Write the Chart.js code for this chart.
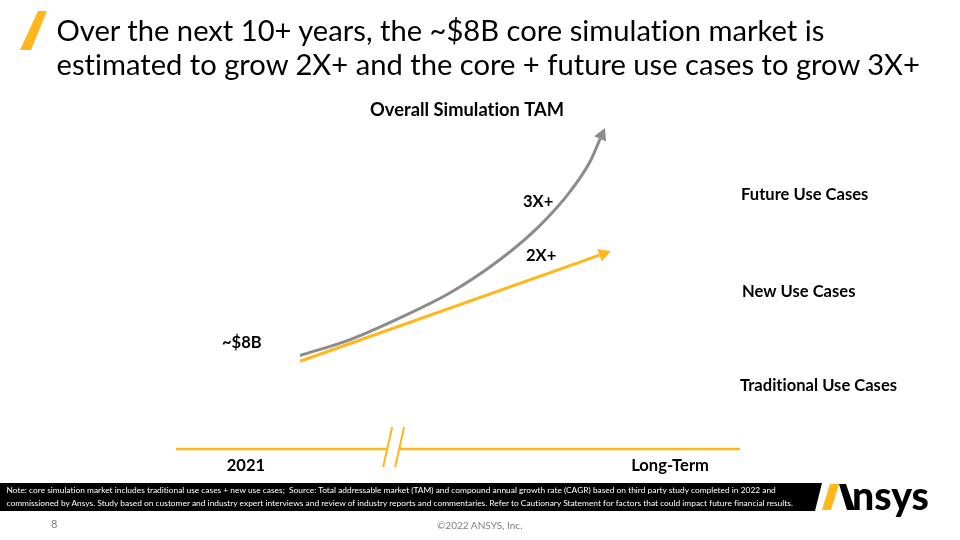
<!DOCTYPE html>
<html>
<head>
<meta charset="utf-8">
<title>Overall Simulation TAM</title>
<script src="https://cdn.jsdelivr.net/npm/chart.js@4.4.1/dist/chart.umd.min.js"></script>
<style>
  body { margin: 0; background: #fff; }
  #slide { position: relative; width: 960px; height: 540px; overflow: hidden; background: #fff; }
  #myChart { position: absolute; left: 0; top: 0; }
  #shapes { position: absolute; left: 0; top: 0; }
  .txt { position: absolute; margin: 0; white-space: nowrap; }
</style>
</head>
<body>
<div id="slide">
  <canvas id="myChart" width="960" height="540"></canvas>
  <svg id="shapes" width="960" height="540">
    <polygon points="38,11 47,11 31,50 20,50" fill="#ffb71b"></polygon>
    <polygon points="0,483 822,483 815,511 0,511" fill="#000"></polygon>
    <polygon points="830,484 839,484 831,510 822,510" fill="#ffb71b"></polygon>
    <polygon points="839,484 846,484 855,510 847,510" fill="#000"></polygon>
  </svg>
  <p class="txt" id="title1">Over the next 10+ years, the ~$8B core simulation market is</p>
  <p class="txt" id="title2">estimated to grow 2X+ and the core + future use cases to grow 3X+</p>
  <p class="txt" id="note1">Note: core simulation market includes traditional use cases + new use cases;&nbsp; Source: Total addressable market (TAM) and compound annual growth rate (CAGR) based on third party study completed in 2022 and</p>
  <p class="txt" id="note2">commissioned by Ansys. Study based on customer and industry expert interviews and review of industry reports and commentaries. Refer to Cautionary Statement for factors that could impact future financial results.</p>
  <p class="txt" id="logoText">nsys</p>
  <p class="txt" id="pageNum">8</p>
  <p class="txt" id="copyText">©2022 ANSYS, Inc.</p>
</div>
<script>
'use strict';
// timeline ticks (x runs 0..100 from 2021 to long-term)
const tickLabels = ['2021', 'Long-Term'];
const tickAt = [12.4, 87.6];
const breakAt = 38.5;

// market size, $B (schematic)
const coreX = [22.0, 75.1];
const coreY = [7.7, 17.0];
const totalX = [22.0, 30.9, 39.7, 48.6, 57.4, 64.5, 69.9, 73.4, 75.2];
const totalY = [8.2, 9.6, 11.5, 13.7, 16.6, 19.6, 22.6, 25.2, 27.2];

const useCases = ['Future Use Cases', 'New Use Cases', 'Traditional Use Cases'];
const growthLabels = ['3X+', '2X+'];
const startLabel = '~$8B';
const heading = 'Overall Simulation TAM';

const orange = '#ffb71b';
const grey = '#8c8c8c';
const sans = "Lato, 'Open Sans', sans-serif";

const measureCtx = document.createElement('canvas').getContext('2d');
measureCtx.letterSpacing = '0.01px';

function fitSize(text, weight, width) {
  measureCtx.font = `${weight} 100px ${sans}`;
  return 100 * width / measureCtx.measureText(text).width;
}

function place(id, left, baseline, size, weight, color, align) {
  const el = document.getElementById(id);
  const font = `${weight} ${size}px ${sans}`;
  measureCtx.font = font;
  const m = measureCtx.measureText(el.textContent);
  el.style.font = font;
  el.style.fontVariantLigatures = 'none';
  el.style.lineHeight = (m.fontBoundingBoxAscent + m.fontBoundingBoxDescent) + 'px';
  el.style.top = (baseline - m.fontBoundingBoxAscent) + 'px';
  el.style.left = (align === 'center' ? left - m.width / 2 : left) + 'px';
  el.style.color = color;
}

let titleSize = fitSize(document.getElementById('title2').textContent, 'normal', 865);
place('title1', 56.5, 40.7, titleSize, 'normal', '#000');
place('title2', 56.5, 75, titleSize, 'normal', '#000');

let noteSize = fitSize(document.getElementById('note2').textContent, 'normal', 791);
place('note1', 6.5, 493, noteSize, 'normal', '#fff');
place('note2', 6.5, 506, noteSize, 'normal', '#fff');

place('logoText', 852, 510, fitSize('nsys', '900', 77), '900', '#000');
place('pageNum', 51, 528, 11, 'normal', '#7f7f7f');
place('copyText', 480, 529, fitSize('©2022 ANSYS, Inc.', 'normal', 86), 'normal', '#7f7f7f', 'center');

function toPoints(xs, ys) {
  return xs.map((x, i) => ({x: x, y: ys[i]}));
}

const slideDecor = {
  id: 'slideDecor',
  afterDatasetsDraw(chart) {
    const ctx = chart.ctx;
    const area = chart.chartArea;
    const xScale = chart.scales.x;
    ctx.save();

    // arrow heads at the end of each line
    chart.data.datasets.forEach((ds, i) => {
      const pts = chart.getDatasetMeta(i).data;
      const end = pts[pts.length - 1];
      const prev = pts[pts.length - 2];
      let rx = end.cp1x !== undefined ? end.cp1x : prev.x;
      let ry = end.cp1y !== undefined ? end.cp1y : prev.y;
      if (Math.hypot(end.x - rx, end.y - ry) < 1) {
        rx = prev.x;
        ry = prev.y;
      }
      const len = Math.hypot(end.x - rx, end.y - ry);
      const ux = (end.x - rx) / len;
      const uy = (end.y - ry) / len;
      ctx.fillStyle = ds.borderColor;
      ctx.beginPath();
      ctx.moveTo(end.x + ux * 12, end.y + uy * 12);
      ctx.lineTo(end.x - uy * 6.5, end.y + ux * 6.5);
      ctx.lineTo(end.x + uy * 6.5, end.y - ux * 6.5);
      ctx.closePath();
      ctx.fill();
    });

    // timeline with a break
    const y = area.bottom;
    const bx = xScale.getPixelForValue(breakAt);
    ctx.strokeStyle = orange;
    ctx.lineWidth = 2.5;
    ctx.beginPath();
    ctx.moveTo(xScale.getPixelForValue(0), y);
    ctx.lineTo(bx - 6, y);
    ctx.moveTo(bx + 6, y);
    ctx.lineTo(xScale.getPixelForValue(100), y);
    ctx.stroke();
    ctx.lineWidth = 2;
    [-6, 6].forEach(off => {
      ctx.beginPath();
      ctx.moveTo(bx + off - 4, y + 18);
      ctx.lineTo(bx + off + 5, y - 22);
      ctx.stroke();
    });

    // text
    ctx.letterSpacing = '0.01px';
    ctx.fillStyle = '#000';
    ctx.textBaseline = 'alphabetic';
    const labelSize = fitSize('Traditional Use Cases', 'bold', 157);
    ctx.font = `bold ${labelSize}px ${sans}`;
    ctx.textAlign = 'center';
    tickLabels.forEach((t, i) => {
      ctx.fillText(t, xScale.getPixelForValue(tickAt[i]), y + 22);
    });
    ctx.textAlign = 'left';
    const usePos = [[741, 200], [742, 297], [740, 391]];
    useCases.forEach((t, i) => ctx.fillText(t, usePos[i][0], usePos[i][1]));
    const growPos = [[523, 207], [526, 261]];
    growthLabels.forEach((t, i) => ctx.fillText(t, growPos[i][0], growPos[i][1]));
    ctx.fillText(startLabel, 222, 348);

    ctx.font = `bold ${fitSize(heading, 'bold', 194)}px ${sans}`;
    ctx.fillText(heading, 370, 116);
    ctx.restore();
  }
};

const ctx = document.getElementById('myChart').getContext('2d');
const myChart = new Chart(ctx, {
  type: 'line',
  data: {
    datasets: [{
      label: 'Core + future use cases',
      data: toPoints(totalX, totalY),
      borderColor: grey,
      borderWidth: 3,
      pointRadius: 0,
      cubicInterpolationMode: 'monotone',
      fill: false
    }, {
      label: 'Core simulation market',
      data: toPoints(coreX, coreY),
      borderColor: orange,
      borderWidth: 3,
      pointRadius: 0,
      tension: 0,
      fill: false
    }]
  },
  options: {
    responsive: false,
    devicePixelRatio: 1,
    animation: false,
    layout: {
      padding: {left: 176, right: 220, top: 107, bottom: 91}
    },
    scales: {
      x: {type: 'linear', min: 0, max: 100, display: false},
      y: {type: 'linear', min: 0, max: 30, display: false}
    },
    plugins: {
      legend: {display: false},
      tooltip: {enabled: false}
    }
  },
  plugins: [slideDecor]
});
</script>
</body>
</html>
